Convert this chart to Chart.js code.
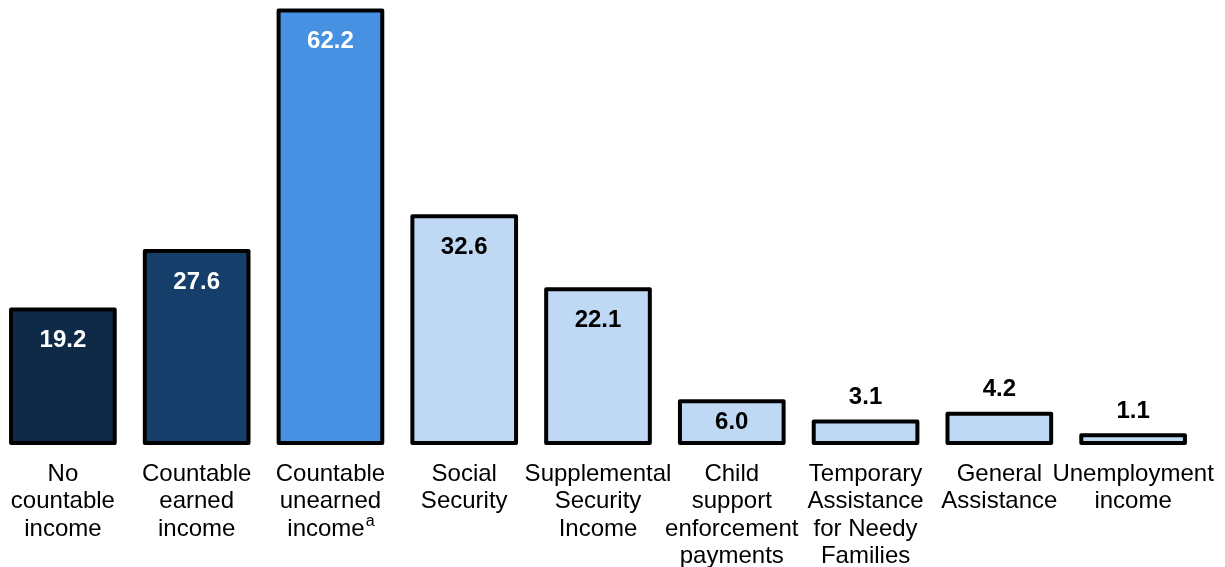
<!doctype html>
<html>
<head>
    <title>Income sources</title>
    <script src="https://cdn.jsdelivr.net/npm/chart.js"></script>
    <style>
        body {
            margin: 0;
            padding: 0;
            background: #ffffff;
            overflow: hidden;
        }

        #grafico {
            position: absolute;
            left: -4px;
            top: 0;
        }
    </style>
</head>
<body>
    <canvas id="grafico" width="1229" height="567"></canvas>

    <script>
        // dados
        var categorias = [
            ['No', 'countable', 'income'],
            ['Countable', 'earned', 'income'],
            ['Countable', 'unearned', 'income'],
            ['Social', 'Security'],
            ['Supplemental', 'Security', 'Income'],
            ['Child', 'support', 'enforcement', 'payments'],
            ['Temporary', 'Assistance', 'for Needy', 'Families'],
            ['General', 'Assistance'],
            ['Unemployment', 'income']
        ];
        var valores = [19.2, 27.6, 62.2, 32.6, 22.1, 6.0, 3.1, 4.2, 1.1];
        var cores = ['#0e2a47', '#163e6b', '#4691e1', '#bfd8f4', '#bfd8f4', '#bfd8f4', '#bfd8f4', '#bfd8f4', '#bfd8f4'];
        var corTexto = ['#ffffff', '#ffffff', '#ffffff', '#000000', '#000000', '#000000', '#000000', '#000000', '#000000'];
        var notaSobrescrita = { indice: 2, linha: 2, texto: 'a' };

        var fonte = '"Liberation Sans", Arial, sans-serif';

        // contorno centrado na borda da barra (como no original)
        var contorno = {
            id: 'contorno',
            afterDatasetsDraw(chart) {
                var ctx = chart.ctx;
                ctx.save();
                ctx.strokeStyle = '#000000';
                ctx.lineWidth = 4;
                ctx.lineJoin = 'round';
                chart.getDatasetMeta(0).data.forEach(function (bar) {
                    var w = bar.width;
                    ctx.strokeRect(bar.x - w / 2, bar.y, w, bar.base - bar.y);
                });
                ctx.restore();
            }
        };

        var rotulos = {
            id: 'rotulos',
            afterDraw(chart) {
                var ctx = chart.ctx;
                var meta = chart.getDatasetMeta(0);
                var xScale = chart.scales.x;
                ctx.save();
                ctx.textAlign = 'center';

                // valores
                ctx.textBaseline = 'middle';
                ctx.font = 'bold 24px ' + fonte;
                meta.data.forEach(function (bar, i) {
                    var v = valores[i];
                    var y;
                    if (v >= 15) y = bar.y + 31;
                    else if (v >= 5) y = (bar.y + bar.base) / 2;
                    else y = bar.y - 24;
                    ctx.fillStyle = v >= 5 ? corTexto[i] : '#000000';
                    ctx.fillText(v.toFixed(1), bar.x, y);
                });

                // categorias
                ctx.textBaseline = 'alphabetic';
                ctx.font = '24px ' + fonte;
                ctx.fillStyle = '#000000';
                var base = chart.chartArea.bottom;
                categorias.forEach(function (linhas, i) {
                    var x = xScale.getPixelForValue(i);
                    linhas.forEach(function (t, j) {
                        var y = base + 38 + j * 27.3;
                        if (notaSobrescrita.indice === i && notaSobrescrita.linha === j) {
                            var w1 = ctx.measureText(t).width;
                            ctx.font = '16px ' + fonte;
                            var w2 = ctx.measureText(notaSobrescrita.texto).width;
                            ctx.textAlign = 'left';
                            var x0 = x - (w1 + w2) / 2;
                            ctx.fillText(notaSobrescrita.texto, x0 + w1 + 1, y - 10);
                            ctx.font = '24px ' + fonte;
                            ctx.fillText(t, x0, y);
                            ctx.textAlign = 'center';
                        } else {
                            ctx.fillText(t, x, y);
                        }
                    });
                });
                ctx.restore();
            }
        };

        var grafico = new Chart(document.getElementById('grafico').getContext('2d'), {
            type: 'bar',
            data: {
                labels: categorias.map(function (c) { return c.join(' '); }),
                datasets: [{
                    data: valores,
                    backgroundColor: cores,
                    borderWidth: 0,
                    categoryPercentage: 1,
                    barPercentage: 0.775
                }]
            },
            options: {
                responsive: false,
                animation: false,
                layout: { padding: { top: 0, bottom: 124, left: 0, right: 25 } },
                plugins: {
                    legend: { display: false },
                    tooltip: { enabled: false }
                },
                scales: {
                    x: {
                        display: false
                    },
                    y: {
                        display: false,
                        min: 0,
                        max: 63.7
                    }
                }
            },
            plugins: [contorno, rotulos]
        });
    </script>
</body>
</html>
